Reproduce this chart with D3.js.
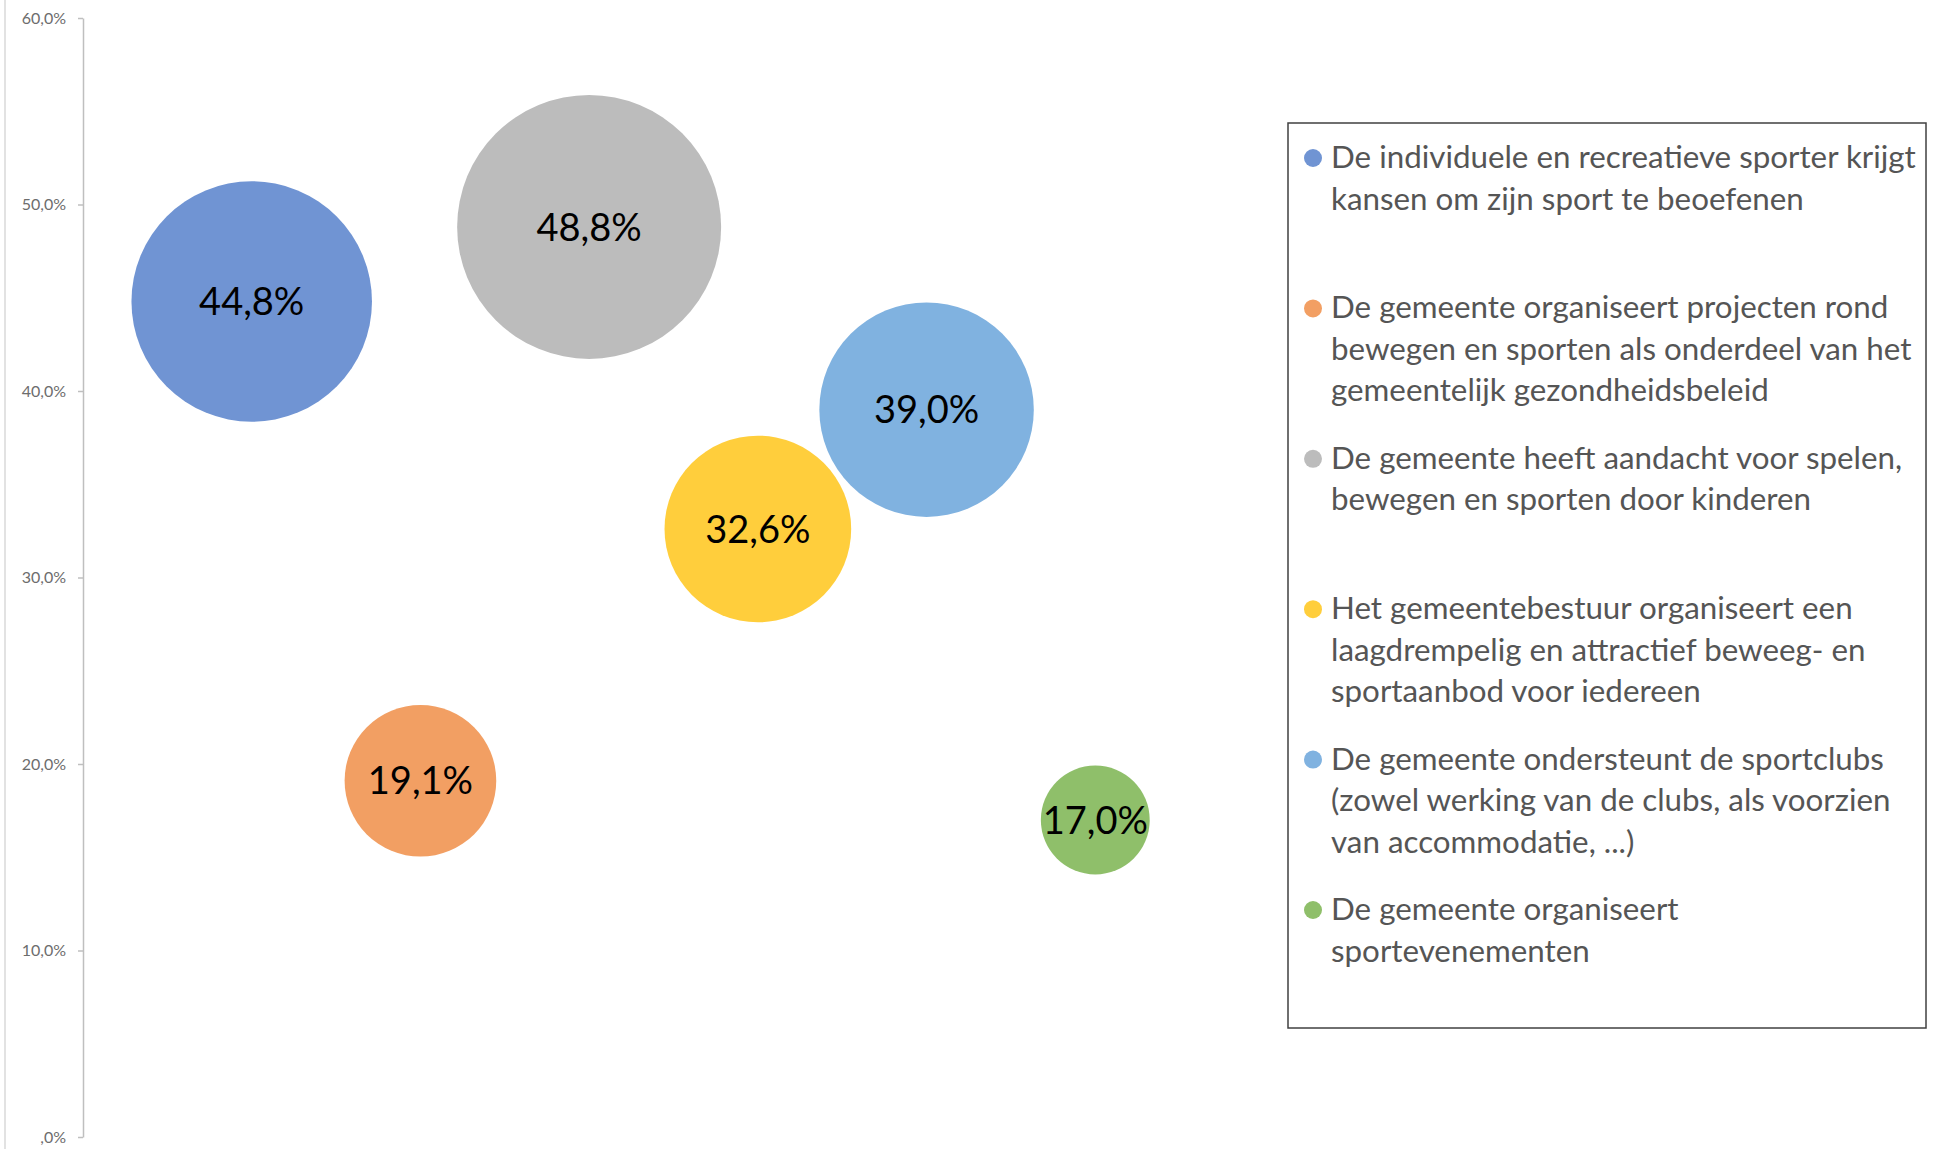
<!DOCTYPE html>
<html>
<head>
<meta charset="utf-8">
<script src="https://cdn.jsdelivr.net/npm/d3@7"></script>
<style>
	body { margin:0; background:#fff; }
	svg text { font-family: Lato, "Open Sans", sans-serif; }
</style>
</head>
<body>
<svg id="chart" width="1937" height="1149"></svg>
<script>
// legend texts, wrapped the same way as the original
var categories = [
	["De individuele en recreatieve sporter krijgt", "kansen om zijn sport te beoefenen"],
	["De gemeente organiseert projecten rond", "bewegen en sporten als onderdeel van het", "gemeentelijk gezondheidsbeleid"],
	["De gemeente heeft aandacht voor spelen,", "bewegen en sporten door kinderen"],
	["Het gemeentebestuur organiseert een", "laagdrempelig en attractief beweeg- en", "sportaanbod voor iedereen"],
	["De gemeente ondersteunt de sportclubs", "(zowel werking van de clubs, als voorzien", "van accommodatie, ...)"],
	["De gemeente organiseert", "sportevenementen"]
];
var xValues     = [1, 2, 3, 4, 5, 6];
var yValues     = [44.8, 19.1, 48.8, 32.6, 39.0, 17.0];
var bubbleSizes = [83, 33, 100, 50, 66, 17];
var colors      = ["#7094d3", "#f29f63", "#bcbcbc", "#ffce3c", "#80b2e0", "#8fbf6a"];
var yTicks      = [0, 10, 20, 30, 40, 50, 60];
var yTickLabels = [",0%", "10,0%", "20,0%", "30,0%", "40,0%", "50,0%", "60,0%"];

var svg = d3.select("#chart");

var x = d3.scaleLinear().domain([0, 7]).range([83, 1264]);
var y = d3.scaleLinear().domain([0, 60]).range([1137, 18]);
var r = d3.scaleSqrt().domain([0, 100]).range([0, 132]);

// faint frame line on the left
svg.append("line")
	.attr("x1", 5).attr("x2", 5)
	.attr("y1", 0).attr("y2", 1149)
	.attr("stroke", "#d9d9d9").attr("stroke-width", 1.5);

var axis = svg.append("g")
	.attr("transform", "translate(" + x(0) + ",0)")
	.call(d3.axisLeft(y)
		.tickValues(yTicks)
		.tickFormat(function(d, i) { return yTickLabels[i]; })
		.tickSize(5)
		.tickSizeOuter(0)
		.tickPadding(12));
axis.select(".domain").attr("stroke", "#bfbfbf").attr("stroke-width", 1.5);
axis.selectAll(".tick line").attr("stroke", "#bfbfbf").attr("stroke-width", 1.5);
axis.selectAll(".tick text")
	.attr("fill", "#6d6d6d")
	.style("font-size", "16px")
	.style("font-family", "Lato, sans-serif");

var data = yValues.map(function(v, i) {
	return { x: xValues[i], y: v, size: bubbleSizes[i], color: colors[i] };
});

var bubbles = svg.append("g").selectAll("g").data(data).enter().append("g");
bubbles.append("circle")
	.attr("cx", function(d) { return x(d.x); })
	.attr("cy", function(d) { return y(d.y); })
	.attr("r", function(d) { return r(d.size); })
	.attr("fill", function(d) { return d.color; });
bubbles.append("text")
	.attr("x", function(d) { return x(d.x); })
	.attr("y", function(d) { return y(d.y); })
	.attr("dy", "0.36em")
	.attr("text-anchor", "middle")
	.attr("fill", "#000")
	.style("font-size", "38px")
	.text(function(d) { return d3.format(".1f")(d.y).replace(".", ",") + "%"; });

// legend
var legend = svg.append("g");
legend.append("rect")
	.attr("x", 1288).attr("y", 123)
	.attr("width", 638).attr("height", 905)
	.attr("fill", "none")
	.attr("stroke", "#404040").attr("stroke-width", 1.5);

var itemStep = 150.4, lineStep = 41.5, firstBase = 168;
var items = legend.selectAll("g.item").data(categories).enter().append("g").attr("class", "item");
items.append("circle")
	.attr("cx", 1313)
	.attr("cy", function(d, i) { return firstBase + i * itemStep - 10; })
	.attr("r", 9)
	.attr("fill", function(d, i) { return colors[i]; });
var texts = items.append("text")
	.attr("fill", "#555555")
	.style("font-size", "100px");
texts.selectAll("tspan").data(function(d, i) { return d.map(function(s) { return { s: s, i: i }; }); })
	.enter().append("tspan")
	.attr("x", 1331)
	.attr("y", function(d, j) { return firstBase + d.i * itemStep + j * lineStep; })
	.text(function(d) { return d.s; });

// size the legend font so the longest line spans the box like in the original
var widest = 0;
texts.selectAll("tspan").each(function() {
	widest = Math.max(widest, this.getComputedTextLength());
});
var fs = 100 * 585 / widest;
texts.style("font-size", fs + "px");
console.log("legend font", fs);
</script>
</body>
</html>
